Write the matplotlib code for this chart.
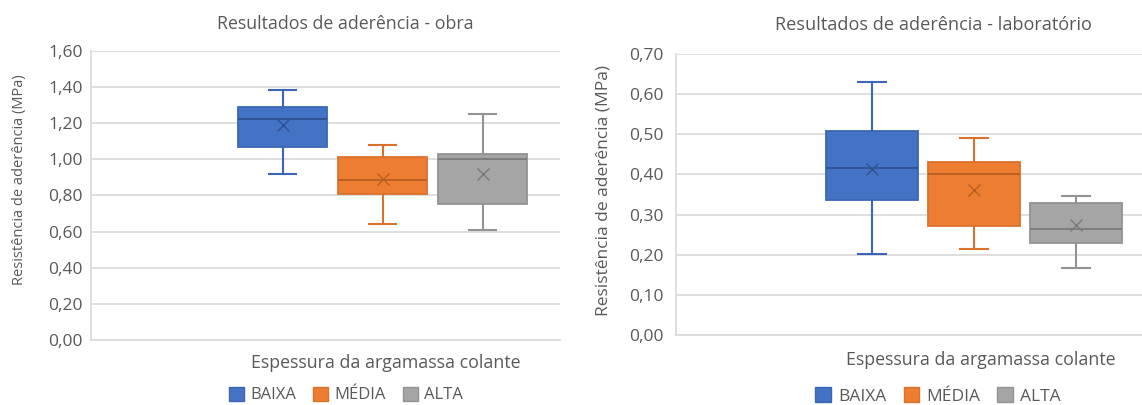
import matplotlib
matplotlib.use("Agg")
import matplotlib.pyplot as plt
from matplotlib.patches import Patch

plt.rcParams['font.family'] = ['Open Sans', 'DejaVu Sans']

# Categories (thickness of the adhesive mortar layer)
categories = ['BAIXA', 'MÉDIA', 'ALTA']

# Bond strength (MPa) - field results ("obra")
obra_whislo = [0.918, 0.642, 0.606]
obra_q1     = [1.070, 0.806, 0.753]
obra_med    = [1.225, 0.885, 1.000]
obra_q3     = [1.290, 1.012, 1.028]
obra_whishi = [1.385, 1.080, 1.250]
obra_mean   = [1.190, 0.892, 0.920]

# Bond strength (MPa) - laboratory results ("laboratório")
lab_whislo = [0.202, 0.214, 0.168]
lab_q1     = [0.336, 0.271, 0.230]
lab_med    = [0.416, 0.400, 0.265]
lab_q3     = [0.508, 0.432, 0.328]
lab_whishi = [0.630, 0.491, 0.347]
lab_mean   = [0.414, 0.361, 0.273]

obra_ticks = [0.0, 0.2, 0.4, 0.6, 0.8, 1.0, 1.2, 1.4, 1.6]
lab_ticks = [0.0, 0.1, 0.2, 0.3, 0.4, 0.5, 0.6, 0.7]

fill_colors = ['#4472C4', '#ED7D31', '#A5A5A5']
line_colors = ['#3B66B5', '#D9722C', '#939393']
dark_colors = ['#2F528F', '#B85F22', '#7A7A7A']
text_color = '#595959'
grid_color = '#D9D9D9'

W, H = 1142, 405
fig = plt.figure(figsize=(W / 100, H / 100), dpi=100)


def px_axes(x0, y0, x1, y1):
    return fig.add_axes([x0 / W, 1 - y1 / H, (x1 - x0) / W, (y1 - y0) / H])


def draw_panel(ax, whislo, q1, med, q3, whishi, mean, ticks, xlim, width, capw, pad):
    stats = []
    for i, name in enumerate(categories):
        stats.append(dict(label=name, whislo=whislo[i], q1=q1[i], med=med[i],
                          q3=q3[i], whishi=whishi[i], mean=mean[i], fliers=[]))
    art = ax.bxp(stats, positions=range(len(categories)), widths=width,
                 capwidths=capw, patch_artist=True, showmeans=True,
                 showfliers=False, zorder=3)
    for i in range(len(categories)):
        box = art['boxes'][i]
        box.set_facecolor(fill_colors[i])
        box.set_edgecolor(line_colors[i])
        box.set_linewidth(1.3)
        art['medians'][i].set_color(dark_colors[i])
        art['medians'][i].set_linewidth(1.3)
        for ln in art['whiskers'][2 * i:2 * i + 2] + art['caps'][2 * i:2 * i + 2]:
            ln.set_color(line_colors[i])
            ln.set_linewidth(1.5)
        m = art['means'][i]
        m.set_marker('x')
        m.set_markersize(9)
        m.set_markeredgewidth(1.0)
        m.set_markeredgecolor(dark_colors[i])
        m.set_markerfacecolor('none')
    ax.set_xlim(*xlim)
    ax.set_ylim(ticks[0], ticks[-1])
    ax.set_yticks(ticks)
    ax.set_yticklabels([f'{t:.2f}'.replace('.', ',') for t in ticks])
    ax.set_xticks([])
    ax.yaxis.grid(True, color=grid_color, linewidth=1.2)
    ax.set_axisbelow(True)
    for s in ('top', 'right'):
        ax.spines[s].set_visible(False)
    for s in ('left', 'bottom'):
        ax.spines[s].set_color(grid_color)
        ax.spines[s].set_linewidth(1.2)
    ax.tick_params(axis='y', length=0, pad=pad, labelsize=12.5, labelcolor=text_color)


ax1 = px_axes(91, 50.7, 560, 340)
draw_panel(ax1, obra_whislo, obra_q1, obra_med, obra_q3, obra_whishi, obra_mean,
           obra_ticks, (-1.917, 2.773), 0.89, 0.27, 6)

ax2 = px_axes(676, 54, 1142, 335)
draw_panel(ax2, lab_whislo, lab_q1, lab_med, lab_q3, lab_whishi, lab_mean,
           lab_ticks, (-1.922, 2.647), 0.90, 0.27, 9)


def ftext(x, y, s, **kw):
    fig.text(x / W, 1 - y / H, s, ha='center', va='center', color=text_color, **kw)


ftext(345, 24, 'Resultados de aderência - obra', fontsize=12.8)
ftext(933, 25, 'Resultados de aderência - laboratório', fontsize=13.1)
ftext(386, 363, 'Espessura da argamassa colante', fontsize=12.8)
ftext(981, 360, 'Espessura da argamassa colante', fontsize=12.8)
ftext(20, 180, 'Resistência de aderência (MPa)', fontsize=10.5, rotation=90)
ftext(603, 190, 'Resistência de aderência (MPa)', fontsize=12.5, rotation=90)

handles = [Patch(facecolor=c, edgecolor=lc) for c, lc in zip(fill_colors, line_colors)]
for cx, cy, fs in ((346, 395, 12), (938, 396, 12.5)):
    fig.legend(handles, categories, loc='center', bbox_to_anchor=(cx / W, 1 - cy / H),
               ncol=3, frameon=False, fontsize=fs, handlelength=0.9, handleheight=0.9,
               handletextpad=0.4, columnspacing=1.0, labelcolor=text_color,
               borderpad=0.1)

fig.savefig('out.png', dpi=100)
